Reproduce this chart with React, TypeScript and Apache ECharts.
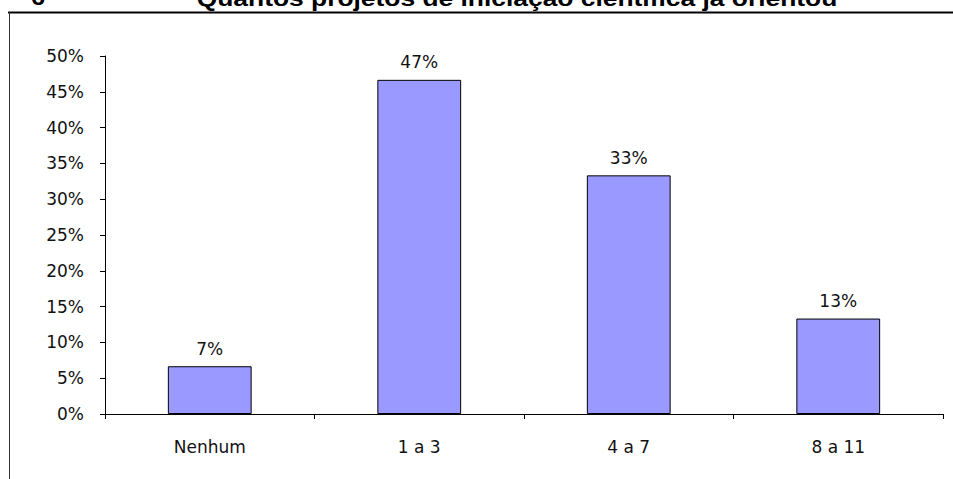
import React, { useEffect, useRef } from "react";
import * as echarts from "echarts";

const categories = ["Nenhum", "1 a 3", "4 a 7", "8 a 11"];
const values = [6.67, 46.67, 33.33, 13.33];
const barLabels = ["7%", "47%", "33%", "13%"];
const titleNumber = "6";
const titleText = "Quantos projetos de iniciação científica já orientou";

export default function App() {
  const ref = useRef<HTMLDivElement>(null);
  useEffect(() => {
    if (!ref.current) return;
    const chart = echarts.init(ref.current, null, { renderer: "svg" });
    const font = "'DejaVu Sans', Verdana, sans-serif";
    const titleFont = "bold 22px Arial, 'Liberation Sans', sans-serif";
    chart.setOption({
      animation: false,
      backgroundColor: "#ffffff",
      textStyle: { fontFamily: font },
      grid: { left: 105, right: 10, top: 56, bottom: 65, containLabel: false },
      xAxis: {
        type: "category",
        data: categories,
        axisLine: { show: true, lineStyle: { color: "#000", width: 1 } },
        axisTick: { show: true, alignWithLabel: false, length: 5, lineStyle: { color: "#000" } },
        axisLabel: { color: "#111", fontSize: 17, margin: 24, fontFamily: font },
        splitLine: { show: false },
      },
      yAxis: {
        type: "value",
        min: 0,
        max: 50,
        interval: 5,
        axisLine: { show: true, lineStyle: { color: "#000", width: 1 } },
        axisTick: { show: true, length: 5, lineStyle: { color: "#000" } },
        axisLabel: { color: "#111", fontSize: 17, margin: 21, formatter: "{value}%", fontFamily: font },
        splitLine: { show: false },
      },
      series: [
        {
          type: "bar",
          data: values,
          barWidth: "40%",
          itemStyle: { color: "#9999ff", borderColor: "#000", borderWidth: 1 },
          label: {
            show: true,
            position: "top",
            distance: 9,
            color: "#111",
            fontSize: 17,
            fontFamily: font,
            formatter: (p: any) => barLabels[p.dataIndex],
          },
        },
      ],
      graphic: [
        {
          type: "line",
          shape: { x1: 8, y1: 12.5, x2: 953, y2: 12.5 },
          style: { stroke: "#000", lineWidth: 2 },
        },
        {
          type: "line",
          shape: { x1: 9.5, y1: 12, x2: 9.5, y2: 479 },
          style: { stroke: "#333", lineWidth: 1 },
        },
        {
          type: "text",
          x: 31,
          y: 9,
          scaleX: 1.15,
          style: {
            text: titleNumber,
            font: titleFont,
            fill: "#000",
            verticalAlign: "bottom",
            align: "left",
          },
        },
        {
          type: "text",
          x: 517,
          y: 9,
          scaleX: 1.2,
          style: {
            text: titleText,
            font: titleFont,
            fill: "#000",
            verticalAlign: "bottom",
            align: "center",
          },
        },
      ],
    });
    return () => chart.dispose();
  }, []);
  return (
    <div
      ref={ref}
      style={{ position: "fixed", left: 0, top: 0, width: 953, height: 479 }}
    />
  );
}
